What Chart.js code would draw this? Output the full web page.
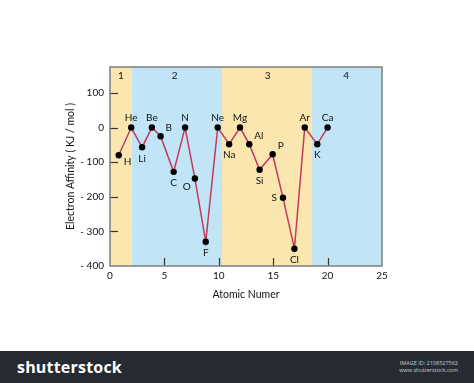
<!DOCTYPE html>
<html><head><meta charset="utf-8">
<script src="https://cdn.jsdelivr.net/npm/chart.js@4"></script>
<style>
html,body{margin:0;padding:0;background:#fff;width:474px;height:383px;overflow:hidden;font-family:Lato,"Open Sans",sans-serif}
#wrap{position:absolute;left:0;top:0;width:474px;height:351px}
#bar{position:absolute;left:0;top:351px;width:474px;height:32px;background:#262b33}
#logo{position:absolute;left:17px;top:5px;color:#fff;font:bold 16px "Open Sans",sans-serif;letter-spacing:0.2px}
#info{position:absolute;right:16px;top:9px;color:#c9ccd1;font:5.5px "Open Sans",sans-serif;text-align:right;line-height:7px}
</style></head>
<body>
<div id="wrap"><canvas id="c" width="474" height="351"></canvas></div>
<div id="bar"><div id="logo">shutterstock</div><div id="info">IMAGE ID: 2108527562<br>www.shutterstock.com</div></div>
<script>
const elements = ['H','He','Li','Be','B','C','N','O','F','Ne','Na','Mg','Al','Si','P','S','Cl','Ar','K','Ca'];
const atomicX = [0.8,1.95,2.95,3.85,4.65,5.85,6.9,7.8,8.8,9.9,10.95,11.95,12.8,13.75,14.95,15.9,16.95,17.9,19.05,20.0];
const affinity = [-80,0,-57,0,-25,-128,0,-147,-330,0,-48,0,-48,-122,-77,-203,-350,0,-48,0];
const labelPlace = ['br','t','b','t','tr','b','t','bl','b','t','b','t','tr','b','tr','l','b','t','b','t'];
const periodEdges = [0, 2, 10.3, 18.55, 25];
const periodNames = ['1','2','3','4'];
const periodLabelX = [1.0, 5.95, 14.5, 21.7];
const periodColors = ['#fce6b0','#c1e4f6','#fce6b0','#c1e4f6'];
const yTickValues = [100,0,-100,-200,-300,-400];
const xTickValues = [0,5,10,15,20,25];
const FONT = 'Lato, "Open Sans", sans-serif';

const bandsPlugin = {
  id:'bands',
  beforeDatasetsDraw(chart){
    const {ctx, chartArea:a, scales:{x,y}} = chart;
    ctx.save();
    for(let i=0;i<periodNames.length;i++){
      const x0 = x.getPixelForValue(periodEdges[i]);
      const x1 = x.getPixelForValue(periodEdges[i+1]);
      ctx.fillStyle = periodColors[i];
      ctx.fillRect(x0, a.top, x1-x0, a.bottom-a.top);
    }
    ctx.fillStyle = '#111';
    ctx.font = '10px ' + FONT;
    ctx.textAlign='center'; ctx.textBaseline='middle';
    periodNames.forEach((n,i)=>ctx.fillText(n, x.getPixelForValue(periodLabelX[i]), a.top+9));
    // inner ticks
    ctx.strokeStyle='#333'; ctx.lineWidth=1.2;
    xTickValues.slice(1,-1).forEach(v=>{
      const px = Math.round(x.getPixelForValue(v))+0.5;
      ctx.beginPath(); ctx.moveTo(px,a.bottom); ctx.lineTo(px,a.bottom-8); ctx.stroke();
    });
    yTickValues.slice(0,-1).forEach(v=>{
      const py = Math.round(y.getPixelForValue(v))+0.5;
      ctx.beginPath(); ctx.moveTo(a.left,py); ctx.lineTo(a.left+8,py); ctx.stroke();
    });
    ctx.restore();
  },
  afterDatasetsDraw(chart){
    const {ctx, chartArea:a} = chart;
    const meta = chart.getDatasetMeta(0);
    ctx.save();
    ctx.fillStyle='#111';
    ctx.font = '10px ' + FONT;
    ctx.textBaseline='middle';
    meta.data.forEach((p,i)=>{
      const pl = labelPlace[i];
      let dx=0, dy=0, al='center';
      if(pl==='t'){dy=-10;}
      else if(pl==='b'){dy=11;}
      else if(pl==='tr'){dx=5;dy=-8;al='left';}
      else if(pl==='br'){dx=5;dy=7;al='left';}
      else if(pl==='bl'){dx=-4;dy=8;al='right';}
      else if(pl==='l'){dx=-6;dy=0;al='right';}
      ctx.textAlign=al;
      ctx.fillText(elements[i], p.x+dx, p.y+dy);
    });
    ctx.strokeStyle='#7d7d7d'; ctx.lineWidth=1.5;
    ctx.strokeRect(a.left, a.top, a.right-a.left, a.bottom-a.top);
    ctx.restore();
  }
};

new Chart(document.getElementById('c'), {
  type:'line',
  data:{datasets:[{
    data: atomicX.map((x,i)=>({x:x, y:affinity[i]})),
    borderColor:'#c23a5e', borderWidth:1.5,
    pointBackgroundColor:'#000', pointBorderColor:'#000',
    pointRadius:3.2, pointBorderWidth:0, tension:0, clip:false
  }]},
  options:{
    responsive:false, animation:false,
    layout:{padding:{left:0,right:92,top:67,bottom:0}},
    plugins:{legend:{display:false}, tooltip:{enabled:false}},
    scales:{
      x:{type:'linear', min:0, max:25,
        afterBuildTicks(s){ s.ticks = xTickValues.map(v=>({value:v})); },
        afterFit(s){ s.height = 85; },
        grid:{display:false, drawTicks:false}, border:{display:false},
        ticks:{color:'#111', padding:4, font:{family:FONT, size:10}},
        title:{display:true, text:'Atomic Numer', color:'#111', font:{family:FONT,size:10.5}, padding:{top:0,bottom:50}}
      },
      y:{min:-400, max:175,
        afterBuildTicks(s){ s.ticks = yTickValues.map(v=>({value:v})); },
        afterFit(s){ s.width = 110; },
        grid:{display:false, drawTicks:false}, border:{display:false},
        ticks:{color:'#111', padding:6, font:{family:FONT,size:10},
          callback:(v)=> v<0 ? '- '+Math.abs(v) : String(v)},
        title:{display:true, text:'Electron Affinity ( KJ / mol )', color:'#111', font:{family:FONT,size:10.5}, padding:{top:64,bottom:0}}
      }
    }
  },
  plugins:[bandsPlugin]
});
</script>
</body></html>
